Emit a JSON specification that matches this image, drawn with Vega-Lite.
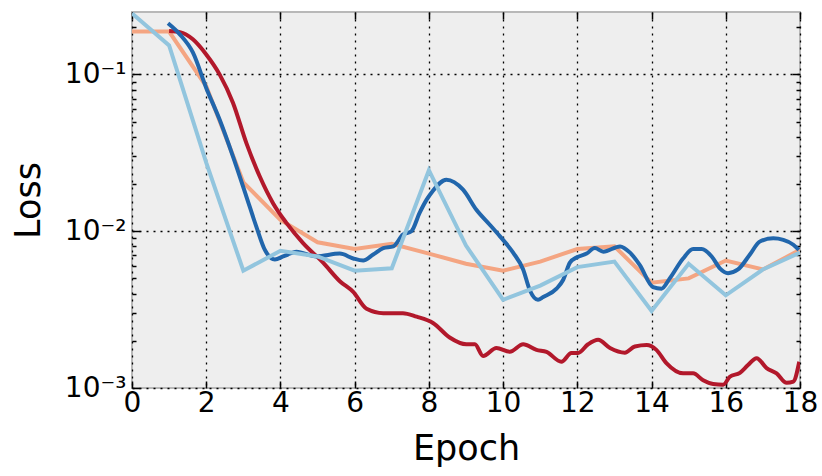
{
  "$schema": "https://vega.github.io/schema/vega-lite/v6.json",
  "autosize": "none",
  "width": 668,
  "height": 376,
  "padding": {"left": 132, "top": 12, "right": 22, "bottom": 88},
  "background": "white",
  "config": {
    "font": "DejaVu Sans",
    "view": {"fill": "#eeeeee", "stroke": "#b8b8b8", "strokeWidth": 2},
    "axis": {"domain": false, "labelFont": "DejaVu Sans", "titleFont": "DejaVu Sans", "labelColor": "black", "titleColor": "black", "tickColor": "black", "titleFontWeight": "normal"}
  },
  "data": {"values": [
    {"s": "orange", "epoch": 0, "loss": 0.1875}, {"s": "orange", "epoch": 1, "loss": 0.1875}, {"s": "orange", "epoch": 2, "loss": 0.084}, {"s": "orange", "epoch": 3, "loss": 0.0205}, {"s": "orange", "epoch": 4, "loss": 0.0118}, {"s": "orange", "epoch": 5, "loss": 0.0085}, {"s": "orange", "epoch": 6, "loss": 0.0077}, {"s": "orange", "epoch": 7, "loss": 0.0083}, {"s": "orange", "epoch": 8, "loss": 0.0072}, {"s": "orange", "epoch": 9, "loss": 0.0062}, {"s": "orange", "epoch": 10, "loss": 0.0056}, {"s": "orange", "epoch": 11, "loss": 0.0064}, {"s": "orange", "epoch": 12, "loss": 0.0077}, {"s": "orange", "epoch": 13, "loss": 0.0080}, {"s": "orange", "epoch": 14, "loss": 0.0047}, {"s": "orange", "epoch": 15, "loss": 0.0050}, {"s": "orange", "epoch": 16, "loss": 0.0065}, {"s": "orange", "epoch": 17, "loss": 0.0057}, {"s": "orange", "epoch": 18, "loss": 0.0076},

    {"s": "lightblue", "epoch": 0, "loss": 0.245}, {"s": "lightblue", "epoch": 1, "loss": 0.153}, {"s": "lightblue", "epoch": 2, "loss": 0.0274}, {"s": "lightblue", "epoch": 3, "loss": 0.0056}, {"s": "lightblue", "epoch": 4, "loss": 0.0075}, {"s": "lightblue", "epoch": 5, "loss": 0.0069}, {"s": "lightblue", "epoch": 6, "loss": 0.0056}, {"s": "lightblue", "epoch": 7, "loss": 0.0058}, {"s": "lightblue", "epoch": 8, "loss": 0.0245}, {"s": "lightblue", "epoch": 9, "loss": 0.0081}, {"s": "lightblue", "epoch": 10, "loss": 0.00365}, {"s": "lightblue", "epoch": 11, "loss": 0.0045}, {"s": "lightblue", "epoch": 12, "loss": 0.0059}, {"s": "lightblue", "epoch": 13, "loss": 0.0064}, {"s": "lightblue", "epoch": 14, "loss": 0.0031}, {"s": "lightblue", "epoch": 15, "loss": 0.0062}, {"s": "lightblue", "epoch": 16, "loss": 0.0039}, {"s": "lightblue", "epoch": 17, "loss": 0.0057}, {"s": "lightblue", "epoch": 18, "loss": 0.0073},

    {"s": "darkblue", "epoch": 0.97, "loss": 0.212}, {"s": "darkblue", "epoch": 1.29, "loss": 0.180}, {"s": "darkblue", "epoch": 1.64, "loss": 0.138}, {"s": "darkblue", "epoch": 2.0, "loss": 0.082}, {"s": "darkblue", "epoch": 2.36, "loss": 0.0515}, {"s": "darkblue", "epoch": 2.72, "loss": 0.030}, {"s": "darkblue", "epoch": 3.08, "loss": 0.0167}, {"s": "darkblue", "epoch": 3.35, "loss": 0.0107}, {"s": "darkblue", "epoch": 3.58, "loss": 0.0076}, {"s": "darkblue", "epoch": 3.85, "loss": 0.0066}, {"s": "darkblue", "epoch": 4.07, "loss": 0.0069}, {"s": "darkblue", "epoch": 4.2, "loss": 0.0071}, {"s": "darkblue", "epoch": 4.43, "loss": 0.0074}, {"s": "darkblue", "epoch": 4.97, "loss": 0.0069}, {"s": "darkblue", "epoch": 5.6, "loss": 0.0072}, {"s": "darkblue", "epoch": 5.96, "loss": 0.0067}, {"s": "darkblue", "epoch": 6.23, "loss": 0.0065}, {"s": "darkblue", "epoch": 6.5, "loss": 0.0071}, {"s": "darkblue", "epoch": 6.77, "loss": 0.0078}, {"s": "darkblue", "epoch": 7.04, "loss": 0.0080}, {"s": "darkblue", "epoch": 7.3, "loss": 0.0095}, {"s": "darkblue", "epoch": 7.53, "loss": 0.0100}, {"s": "darkblue", "epoch": 7.75, "loss": 0.0131}, {"s": "darkblue", "epoch": 7.94, "loss": 0.0159}, {"s": "darkblue", "epoch": 8.1, "loss": 0.0180}, {"s": "darkblue", "epoch": 8.47, "loss": 0.0213}, {"s": "darkblue", "epoch": 8.92, "loss": 0.0184}, {"s": "darkblue", "epoch": 9.28, "loss": 0.0137}, {"s": "darkblue", "epoch": 9.64, "loss": 0.0110}, {"s": "darkblue", "epoch": 9.91, "loss": 0.0093}, {"s": "darkblue", "epoch": 10.27, "loss": 0.0073}, {"s": "darkblue", "epoch": 10.54, "loss": 0.0057}, {"s": "darkblue", "epoch": 10.72, "loss": 0.0042}, {"s": "darkblue", "epoch": 10.94, "loss": 0.00365}, {"s": "darkblue", "epoch": 11.08, "loss": 0.0038}, {"s": "darkblue", "epoch": 11.44, "loss": 0.0043}, {"s": "darkblue", "epoch": 11.62, "loss": 0.0049}, {"s": "darkblue", "epoch": 11.8, "loss": 0.0063}, {"s": "darkblue", "epoch": 11.98, "loss": 0.0068}, {"s": "darkblue", "epoch": 12.25, "loss": 0.0072}, {"s": "darkblue", "epoch": 12.47, "loss": 0.0078}, {"s": "darkblue", "epoch": 12.7, "loss": 0.0074}, {"s": "darkblue", "epoch": 13.15, "loss": 0.0080}, {"s": "darkblue", "epoch": 13.42, "loss": 0.0073}, {"s": "darkblue", "epoch": 13.68, "loss": 0.0061}, {"s": "darkblue", "epoch": 14.04, "loss": 0.0044}, {"s": "darkblue", "epoch": 14.27, "loss": 0.0043}, {"s": "darkblue", "epoch": 14.49, "loss": 0.0050}, {"s": "darkblue", "epoch": 14.85, "loss": 0.0067}, {"s": "darkblue", "epoch": 15.12, "loss": 0.0077}, {"s": "darkblue", "epoch": 15.35, "loss": 0.0077}, {"s": "darkblue", "epoch": 15.62, "loss": 0.0069}, {"s": "darkblue", "epoch": 15.84, "loss": 0.0058}, {"s": "darkblue", "epoch": 16.06, "loss": 0.0054}, {"s": "darkblue", "epoch": 16.33, "loss": 0.0057}, {"s": "darkblue", "epoch": 16.65, "loss": 0.0071}, {"s": "darkblue", "epoch": 16.92, "loss": 0.0086}, {"s": "darkblue", "epoch": 17.28, "loss": 0.0090}, {"s": "darkblue", "epoch": 17.55, "loss": 0.0088}, {"s": "darkblue", "epoch": 17.82, "loss": 0.0082}, {"s": "darkblue", "epoch": 17.97, "loss": 0.0076},

    {"s": "red", "epoch": 1.0, "loss": 0.189}, {"s": "red", "epoch": 1.29, "loss": 0.186}, {"s": "red", "epoch": 1.64, "loss": 0.1675}, {"s": "red", "epoch": 2.0, "loss": 0.134}, {"s": "red", "epoch": 2.36, "loss": 0.100}, {"s": "red", "epoch": 2.72, "loss": 0.066}, {"s": "red", "epoch": 3.08, "loss": 0.0366}, {"s": "red", "epoch": 3.44, "loss": 0.0224}, {"s": "red", "epoch": 3.8, "loss": 0.0151}, {"s": "red", "epoch": 4.16, "loss": 0.0113}, {"s": "red", "epoch": 4.61, "loss": 0.0084}, {"s": "red", "epoch": 5.15, "loss": 0.0063}, {"s": "red", "epoch": 5.6, "loss": 0.0048}, {"s": "red", "epoch": 5.96, "loss": 0.0041}, {"s": "red", "epoch": 6.32, "loss": 0.0032}, {"s": "red", "epoch": 6.77, "loss": 0.0030}, {"s": "red", "epoch": 7.3, "loss": 0.0030}, {"s": "red", "epoch": 7.67, "loss": 0.00285}, {"s": "red", "epoch": 8.11, "loss": 0.0026}, {"s": "red", "epoch": 8.56, "loss": 0.0021}, {"s": "red", "epoch": 9.01, "loss": 0.0019}, {"s": "red", "epoch": 9.24, "loss": 0.0019}, {"s": "red", "epoch": 9.46, "loss": 0.0016}, {"s": "red", "epoch": 9.82, "loss": 0.0018}, {"s": "red", "epoch": 10.18, "loss": 0.0017}, {"s": "red", "epoch": 10.54, "loss": 0.0019}, {"s": "red", "epoch": 10.9, "loss": 0.00175}, {"s": "red", "epoch": 11.17, "loss": 0.0017}, {"s": "red", "epoch": 11.57, "loss": 0.00147}, {"s": "red", "epoch": 11.84, "loss": 0.00167}, {"s": "red", "epoch": 12.02, "loss": 0.00167}, {"s": "red", "epoch": 12.29, "loss": 0.0019}, {"s": "red", "epoch": 12.56, "loss": 0.00203}, {"s": "red", "epoch": 12.88, "loss": 0.0018}, {"s": "red", "epoch": 13.28, "loss": 0.00168}, {"s": "red", "epoch": 13.55, "loss": 0.00184}, {"s": "red", "epoch": 13.87, "loss": 0.00188}, {"s": "red", "epoch": 14.13, "loss": 0.00175}, {"s": "red", "epoch": 14.4, "loss": 0.00144}, {"s": "red", "epoch": 14.85, "loss": 0.00124}, {"s": "red", "epoch": 15.12, "loss": 0.00124}, {"s": "red", "epoch": 15.39, "loss": 0.00112}, {"s": "red", "epoch": 15.66, "loss": 0.00106}, {"s": "red", "epoch": 15.93, "loss": 0.00105}, {"s": "red", "epoch": 16.11, "loss": 0.00118}, {"s": "red", "epoch": 16.38, "loss": 0.00125}, {"s": "red", "epoch": 16.6, "loss": 0.0014}, {"s": "red", "epoch": 16.83, "loss": 0.00155}, {"s": "red", "epoch": 17.1, "loss": 0.00134}, {"s": "red", "epoch": 17.37, "loss": 0.00124}, {"s": "red", "epoch": 17.64, "loss": 0.00108}, {"s": "red", "epoch": 17.82, "loss": 0.0011}, {"s": "red", "epoch": 17.98, "loss": 0.00147}
  ]},
  "layer": [
    {
      "transform": [{"filter": "datum.s == 'orange'"}],
      "mark": {"type": "line", "color": "#f4a582", "strokeWidth": 4, "clip": true},
      "encoding": {
        "x": {"field": "epoch", "type": "quantitative", "scale": {"domain": [0, 18], "nice": false, "zero": false},
          "axis": {"values": [0, 2, 4, 6, 8, 10, 12, 14, 16, 18], "title": "Epoch", "titleFontSize": 35, "titlePadding": 14, "labelFontSize": 28, "labelPadding": 8, "tickSize": -7, "tickWidth": 1.5, "grid": true, "gridColor": "black", "gridDash": [2, 5], "gridWidth": 1.3, "gridOpacity": 1, "labelFlush": false}},
        "y": {"field": "loss", "type": "quantitative", "scale": {"type": "log", "domain": [0.001, 0.25], "nice": false},
          "axis": {"values": [0.001, 0.002, 0.003, 0.004, 0.005, 0.006, 0.007, 0.008, 0.009, 0.01, 0.02, 0.03, 0.04, 0.05, 0.06, 0.07, 0.08, 0.09, 0.1, 0.2],
            "labelExpr": "datum.value == 0.1 ? '10⁻¹' : datum.value == 0.01 ? '10⁻²' : datum.value == 0.001 ? '10⁻³' : ''",
            "title": "Loss", "titleFontSize": 35, "titlePadding": 18, "labelFontSize": 28, "labelPadding": 14,
            "tickSize": {"condition": {"test": "datum.value == 0.1 || datum.value == 0.01 || datum.value == 0.001", "value": -8}, "value": -4},
            "tickWidth": 1.5, "grid": true, "gridColor": "black", "gridDash": [2, 5], "gridWidth": 1.3,
            "gridOpacity": {"condition": {"test": "datum.value == 0.1 || datum.value == 0.01 || datum.value == 0.001", "value": 1}, "value": 0},
            "labelFlush": false, "labelOverlap": false}}
      }
    },
    {
      "transform": [{"filter": "datum.s == 'red'"}],
      "mark": {"type": "line", "color": "#b2182b", "strokeWidth": 4, "interpolate": "monotone", "clip": true},
      "encoding": {
        "x": {"field": "epoch", "type": "quantitative", "axis": null},
        "y": {"field": "loss", "type": "quantitative", "axis": null}
      }
    },
    {
      "transform": [{"filter": "datum.s == 'darkblue'"}],
      "mark": {"type": "line", "color": "#2166ac", "strokeWidth": 4, "interpolate": "monotone", "clip": true},
      "encoding": {
        "x": {"field": "epoch", "type": "quantitative", "axis": null},
        "y": {"field": "loss", "type": "quantitative", "axis": null}
      }
    },
    {
      "transform": [{"filter": "datum.s == 'lightblue'"}],
      "mark": {"type": "line", "color": "#92c5de", "strokeWidth": 4, "clip": true},
      "encoding": {
        "x": {"field": "epoch", "type": "quantitative",
          "axis": {"orient": "top", "values": [0, 2, 4, 6, 8, 10, 12, 14, 16, 18], "labels": false, "title": null, "grid": false, "tickSize": -7, "tickWidth": 1.5}},
        "y": {"field": "loss", "type": "quantitative",
          "axis": {"orient": "right", "values": [0.001, 0.002, 0.003, 0.004, 0.005, 0.006, 0.007, 0.008, 0.009, 0.01, 0.02, 0.03, 0.04, 0.05, 0.06, 0.07, 0.08, 0.09, 0.1, 0.2], "labels": false, "title": null, "grid": false,
            "tickSize": {"condition": {"test": "datum.value == 0.1 || datum.value == 0.01 || datum.value == 0.001", "value": -8}, "value": -4}, "tickWidth": 1.5}}
      }
    }
  ],
  "resolve": {"axis": {"x": "independent", "y": "independent"}}
}
